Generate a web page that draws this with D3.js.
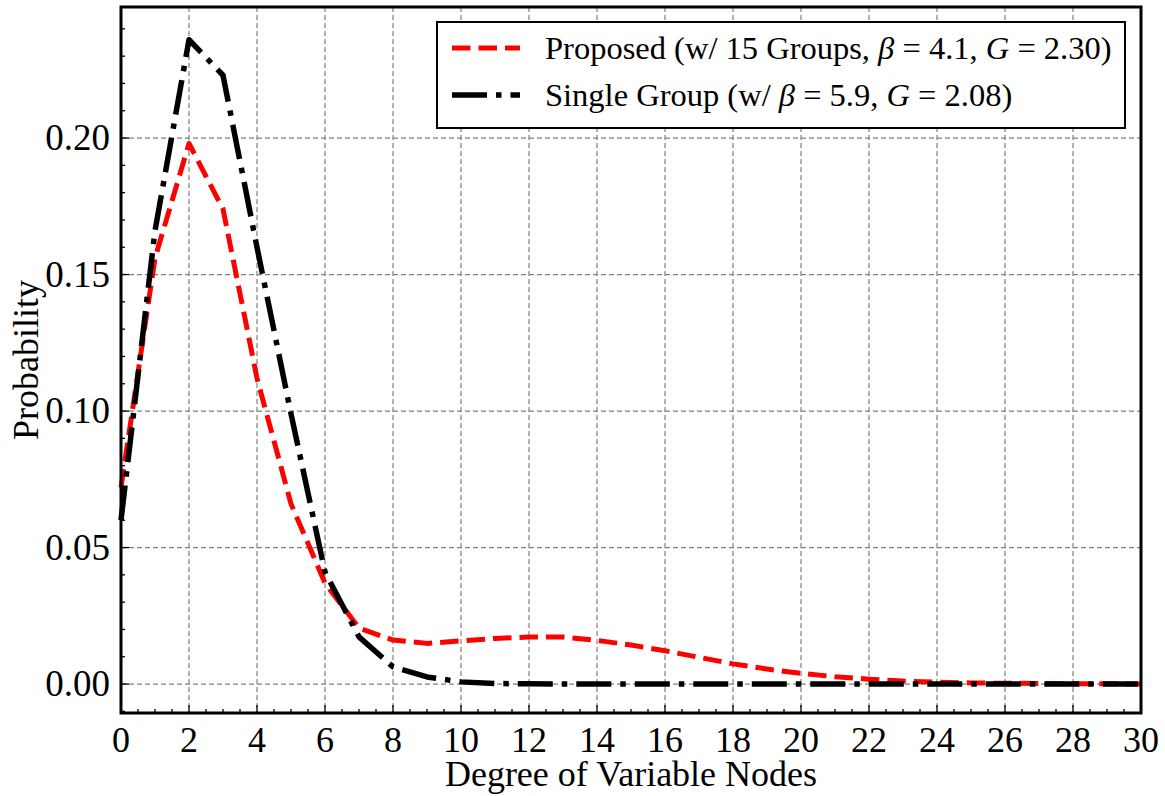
<!DOCTYPE html>
<html>
<head>
<meta charset="utf-8">
<script src="https://cdn.jsdelivr.net/npm/d3@7"></script>
<style>
  body { margin: 0; background: #fff; }
  svg { display: block; font-family: "Liberation Serif", "DejaVu Serif", serif; }
  .grid line { stroke: #808080; stroke-width: 1.2; stroke-dasharray: 5,3; }
</style>
</head>
<body>
<svg id="chart" width="1165" height="796"></svg>
<script>
// values
var degrees = [0, 1, 2, 3, 4, 5, 6, 7, 8, 9, 10, 11, 12, 13, 14, 15, 16, 17, 18, 19, 20, 21, 22, 23, 24, 25, 26, 27, 28, 29, 30];
var proposedProb = [0.072, 0.156, 0.198, 0.174, 0.112, 0.066, 0.037, 0.0205, 0.0161, 0.0149, 0.0158, 0.0167, 0.0172, 0.0172, 0.0160, 0.0143, 0.0122, 0.0098, 0.0074, 0.0055, 0.0039, 0.0027, 0.0018, 0.0011, 0.0007, 0.0004, 0.0003, 0.0002, 0.0001, 0.0001, 0.0000];
var singleProb = [0.060, 0.166, 0.236, 0.223, 0.160, 0.099, 0.041, 0.0173, 0.0063, 0.0026, 0.0008, 0.0002, 0.0001, 0, 0, 0, 0, 0, 0, 0, 0, 0, 0, 0, 0, 0, 0, 0, 0, 0, 0];
var xTicks = [0, 2, 4, 6, 8, 10, 12, 14, 16, 18, 20, 22, 24, 26, 28, 30];
var yTicks = [0, 0.05, 0.10, 0.15, 0.20];
var seriesNames = ["Proposed", "Single Group"];

(function () {
'use strict';

var svg = d3.select("#chart");
var pLeft = 121, pRight = 1141, pTop = 7, pBottom = 713;

var x = d3.scaleLinear().domain([0, 30]).range([pLeft, pRight]);
var y = d3.scaleLinear().domain([-0.0106, 0.248]).range([pBottom, pTop]);

// grid
var grid = svg.append("g").attr("class", "grid");
grid.selectAll("line.gx").data(xTicks.slice(1, -1)).enter().append("line")
    .attr("x1", function (d) { return x(d); }).attr("x2", function (d) { return x(d); })
    .attr("y1", pTop).attr("y2", pBottom);
grid.selectAll("line.gy").data(yTicks).enter().append("line")
    .attr("x1", pLeft).attr("x2", pRight)
    .attr("y1", function (d) { return y(d); }).attr("y2", function (d) { return y(d); });

// curves
function linePath(vals) {
    return d3.line()
        .x(function (d, i) { return x(degrees[i]); })
        .y(function (d) { return y(d); })(vals);
}

svg.append("path")
    .attr("d", linePath(proposedProb))
    .attr("fill", "none")
    .attr("stroke", "#ff0000")
    .attr("stroke-width", 5)
    .attr("stroke-dasharray", "18.5,8")
    .attr("stroke-linejoin", "round");

svg.append("path")
    .attr("d", linePath(singleProb))
    .attr("fill", "none")
    .attr("stroke", "#000")
    .attr("stroke-width", 5.5)
    .attr("stroke-dasharray", "35,9,5.5,9")
    .attr("stroke-linejoin", "round");

// ticks (inward, left and bottom only)
var ticks = svg.append("g").attr("stroke", "#000").attr("stroke-width", 1.3);
var xMinor = d3.range(0, 30.01, 0.5);
var yMinor = d3.range(-0.01, 0.2401, 0.01);
function isMajor(list, d) {
    return list.some(function (t) { return Math.abs(t - d) < 1e-6; });
}
ticks.selectAll("line.xm").data(xMinor).enter().append("line")
    .attr("x1", function (d) { return x(d); }).attr("x2", function (d) { return x(d); })
    .attr("y1", pBottom).attr("y2", function (d) { return isMajor(xTicks, d) ? pBottom - 8 : pBottom - 4; });
ticks.selectAll("line.ym").data(yMinor).enter().append("line")
    .attr("y1", function (d) { return y(d); }).attr("y2", function (d) { return y(d); })
    .attr("x1", pLeft).attr("x2", function (d) { return isMajor(yTicks, d) ? pLeft + 8 : pLeft + 4; });

// frame
svg.append("rect")
    .attr("x", pLeft).attr("y", pTop)
    .attr("width", pRight - pLeft).attr("height", pBottom - pTop)
    .attr("fill", "none").attr("stroke", "#000").attr("stroke-width", 3);

// tick labels
svg.selectAll("text.xt").data(xTicks).enter().append("text")
    .attr("x", function (d) { return x(d); })
    .attr("y", 752)
    .attr("text-anchor", "middle")
    .attr("font-size", 36)
    .text(function (d) { return d; });

svg.selectAll("text.yt").data(yTicks).enter().append("text")
    .attr("x", 110)
    .attr("y", function (d) { return y(d) + 12; })
    .attr("text-anchor", "end")
    .attr("font-size", 37)
    .text(function (d) { return d3.format(".2f")(d); });

// axis titles
svg.append("text")
    .attr("x", (pLeft + pRight) / 2).attr("y", 786)
    .attr("text-anchor", "middle")
    .attr("font-size", 36)
    .text("Degree of Variable Nodes");

svg.append("text")
    .attr("transform", "translate(38," + (pTop + pBottom) / 2 + ") rotate(-90)")
    .attr("text-anchor", "middle")
    .attr("font-size", 36)
    .text("Probability");

// legend
var legend = svg.append("g");
legend.append("rect")
    .attr("x", 437).attr("y", 22).attr("width", 688).attr("height", 106)
    .attr("fill", "#fff").attr("stroke", "#000").attr("stroke-width", 2);

legend.append("line")
    .attr("x1", 452).attr("x2", 520).attr("y1", 48).attr("y2", 48)
    .attr("stroke", "#ff0000").attr("stroke-width", 5).attr("stroke-dasharray", "18.5,8");
legend.append("line")
    .attr("x1", 452).attr("x2", 520).attr("y1", 95).attr("y2", 95)
    .attr("stroke", "#000").attr("stroke-width", 5.5).attr("stroke-dasharray", "35,9,5.5,9");

function legendLabel(yPos, parts) {
    var t = legend.append("text").attr("x", 545).attr("y", yPos).attr("font-size", 32.5);
    parts.forEach(function (p) {
        var s = t.append("tspan").text(p[0]);
        if (p[1]) s.attr("font-style", "italic");
    });
}
legendLabel(59, [[seriesNames[0] + " (w/ 15 Groups, "], ["β", true], [" = 4.1, "], ["G", true], [" = 2.30)"]]);
legendLabel(106, [[seriesNames[1] + " (w/ "], ["β", true], [" = 5.9, "], ["G", true], [" = 2.08)"]]);
})();
</script>
</body>
</html>
